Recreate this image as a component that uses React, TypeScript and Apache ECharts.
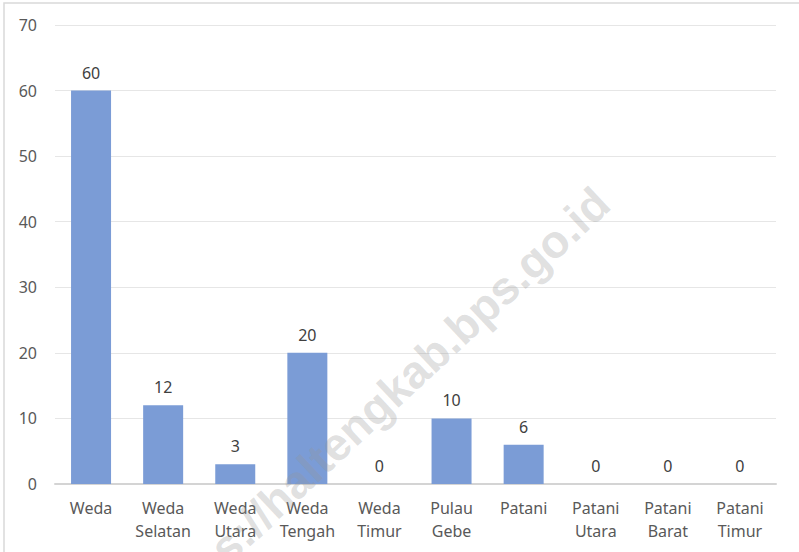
import React, { useEffect, useRef } from "react";
import * as echarts from "echarts";

const categories = [
  "Weda",
  "Weda\nSelatan",
  "Weda\nUtara",
  "Weda\nTengah",
  "Weda\nTimur",
  "Pulau\nGebe",
  "Patani",
  "Patani\nUtara",
  "Patani\nBarat",
  "Patani\nTimur",
];
const values = [60, 12, 3, 20, 0, 10, 6, 0, 0, 0];
const watermark = "https://haltengkab.bps.go.id";

export default function App() {
  const ref = useRef<HTMLDivElement>(null);
  useEffect(() => {
    document.body.style.margin = "0";
    const chart = echarts.init(ref.current!, undefined, { renderer: "svg" });
    chart.setOption({
      animation: false,
      backgroundColor: "#ffffff",
      grid: { left: 55, right: 23, top: 25, bottom: 68, containLabel: false },
      xAxis: {
        type: "category",
        data: categories,
        axisLine: { lineStyle: { color: "#d4d4d4", width: 2 } },
        axisTick: { show: false },
        axisLabel: {
          color: "#595959",
          fontFamily: "Noto Sans",
          fontSize: 16,
          lineHeight: 23,
          margin: 12,
          interval: 0,
        },
      },
      yAxis: {
        type: "value",
        min: 0,
        max: 70,
        interval: 10,
        axisLine: { show: false },
        axisTick: { show: false },
        splitLine: { lineStyle: { color: "#e6e6e6", width: 1 } },
        axisLabel: {
          color: "#595959",
          fontFamily: "Noto Sans",
          fontSize: 16,
          margin: 18,
        },
      },
      series: [
        {
          type: "bar",
          data: values,
          barWidth: 40,
          itemStyle: { color: "#7b9cd6" },
          label: {
            show: true,
            position: "top",
            distance: 10,
            color: "#404040",
            fontFamily: "Noto Sans",
            fontSize: 16,
          },
          z: 2,
        },
      ],
      graphic: [
        {
          type: "rect",
          shape: { x: 4, y: 3, width: 800, height: 560 },
          style: { fill: "none", stroke: "#d9d9d9", lineWidth: 1.5 },
          silent: true,
          z: 0,
        },
        {
          type: "text",
          x: 602,
          y: 196,
          rotation: (43 * Math.PI) / 180,
          style: {
            text: watermark,
            fontFamily: "Liberation Sans",
            fontWeight: "bold",
            fontSize: 46,
            fill: "rgba(150,150,150,0.3)",
            textAlign: "right",
            textVerticalAlign: "middle",
          },
          silent: true,
          z: 100,
        },
      ],
    });
    return () => chart.dispose();
  }, []);
  return <div ref={ref} style={{ width: 799, height: 552 }} />;
}
